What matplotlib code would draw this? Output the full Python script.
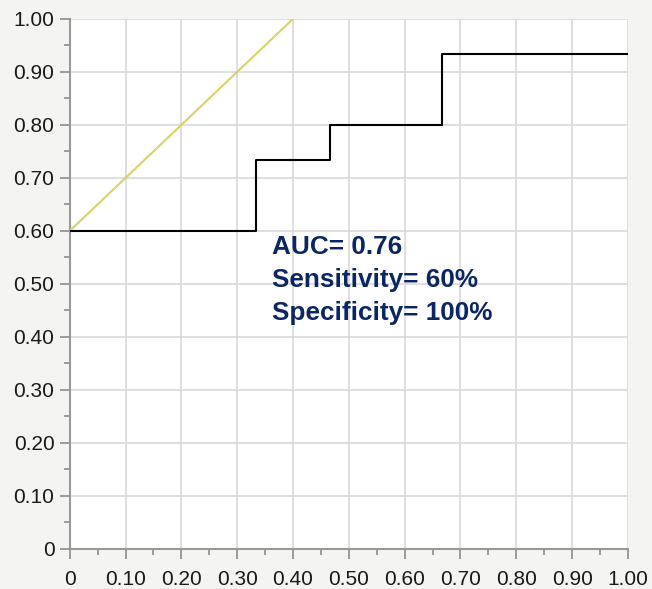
import matplotlib.pyplot as plt
from matplotlib.ticker import MultipleLocator, FuncFormatter

# ROC step curve (1 - specificity, sensitivity)
fpr = [0, 0.333, 0.333, 0.467, 0.467, 0.667, 0.667, 1.0]
tpr = [0.6, 0.6, 0.733, 0.733, 0.8, 0.8, 0.933, 0.933]

# reference line
ref_x = [0, 0.4]
ref_y = [0.6, 1.0]

stats = ["AUC= 0.76", "Sensitivity= 60%", "Specificity= 100%"]

plt.rcParams['font.family'] = ['Liberation Sans', 'DejaVu Sans']

fig = plt.figure(figsize=(6.52, 5.89), dpi=100, facecolor='#f4f4f2')
ax = fig.add_axes([0.107, 0.068, 0.856, 0.9])
ax.set_facecolor('white')

ax.plot(ref_x, ref_y, color='#d8d26a', lw=1.5, zorder=3)
ax.plot(fpr, tpr, color='black', lw=1.5, zorder=4)

ax.set_xlim(0, 1)
ax.set_ylim(0, 1)
ax.xaxis.set_major_locator(MultipleLocator(0.1))
ax.yaxis.set_major_locator(MultipleLocator(0.1))
ax.xaxis.set_minor_locator(MultipleLocator(0.05))
ax.yaxis.set_minor_locator(MultipleLocator(0.05))

fmt = FuncFormatter(lambda v, p: '0' if abs(v) < 1e-9 else f'{v:.2f}')
ax.xaxis.set_major_formatter(fmt)
ax.yaxis.set_major_formatter(fmt)

ax.grid(True, which='major', color='#d9d9d9', lw=1.2)
ax.set_axisbelow(True)

for s in ['top', 'right']:
    ax.spines[s].set_visible(False)
for s in ['left', 'bottom']:
    ax.spines[s].set_color('#999999')
    ax.spines[s].set_linewidth(1.5)

ax.tick_params(which='major', length=7, width=1.2, color='#8c8c8c',
               labelsize=15, labelcolor='#1a1a1a')
ax.tick_params(axis='x', which='major', pad=8)
ax.tick_params(axis='y', which='major', pad=4)
ax.tick_params(which='minor', length=4, width=1.2, color='#8c8c8c')

for i, t in enumerate(stats):
    ax.text(0.362, 0.569 - i * 0.062, t, fontsize=18.8, fontweight='bold',
            color='#0b2763', va='center', ha='left', zorder=5)

plt.savefig('out.png', dpi=100, facecolor=fig.get_facecolor())
